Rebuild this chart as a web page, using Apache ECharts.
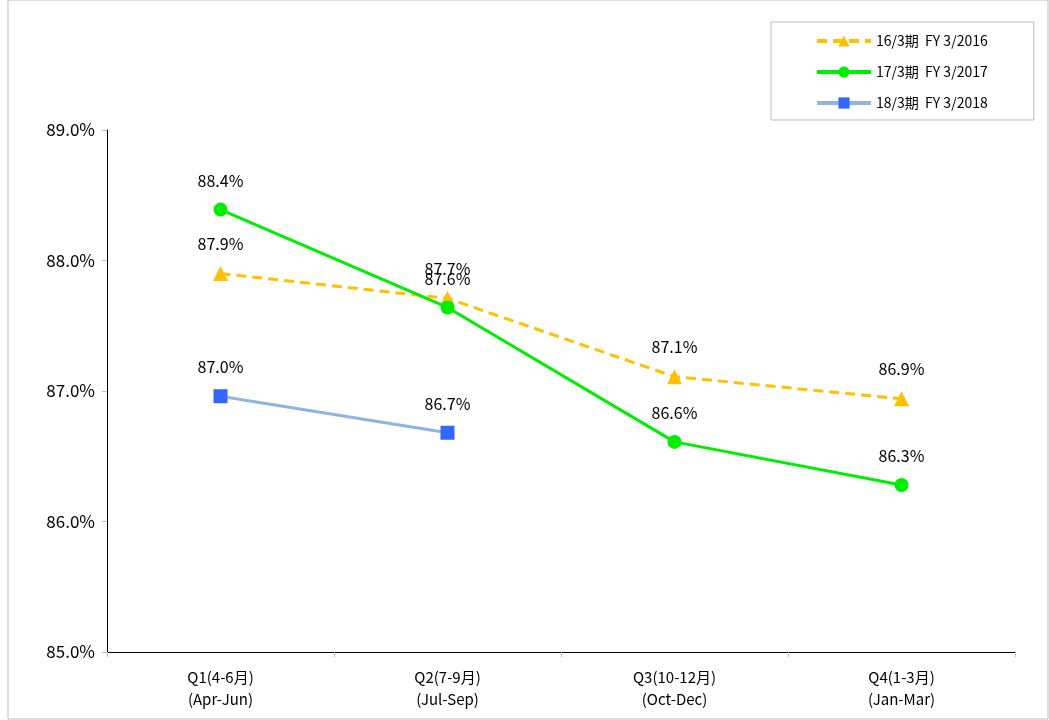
<!DOCTYPE html>
<html>
<head>
<meta charset="utf-8">
<script src="https://cdn.jsdelivr.net/npm/echarts@6/dist/echarts.min.js"></script>
<style>
html, body { margin: 0; padding: 0; background: #fff; }
#main { width: 1049px; height: 720px; }
</style>
</head>
<body>
<div id="main"></div>
<script>
// 四半期ラベル
var quarters = ['Q1(4-6月)\n(Apr-Jun)', 'Q2(7-9月)\n(Jul-Sep)', 'Q3(10-12月)\n(Oct-Dec)', 'Q4(1-3月)\n(Jan-Mar)'];
var names = ['16/3期  FY 3/2016', '17/3期  FY 3/2017', '18/3期  FY 3/2018'];
var fy2016 = [87.9, 87.71, 87.11, 86.94];
var fy2017 = [88.39, 87.64, 86.61, 86.28];
var fy2018 = [86.96, 86.68, null, null];

var font = '"Noto Sans CJK JP", "DejaVu Sans", sans-serif';

function pct(p) { return p.value.toFixed(1) + '%'; }

var labelStyle = {
    show: true,
    position: 'top',
    distance: 14,
    formatter: pct,
    fontSize: 16,
    color: '#000',
    fontFamily: font
};

var myChart = echarts.init(document.getElementById('main'));
myChart.setOption({
    animation: false,
    graphic: [{
        type: 'rect',
        shape: { x: 8, y: 0, width: 1040, height: 719 },
        style: { fill: 'none', stroke: '#bbb', lineWidth: 1 },
        z: -1
    }],
    grid: { left: 107, right: 34, top: 130, bottom: 68 },
    legend: {
        orient: 'vertical',
        left: 771,
        top: 22,
        padding: [12, 46, 10, 44],
        itemGap: 17,
        itemWidth: 54,
        itemHeight: 14,
        borderColor: '#bbb',
        borderWidth: 1,
        borderRadius: 0,
        lineStyle: { width: 4 },
        textStyle: { fontSize: 14, color: '#000', fontFamily: font },
        data: names
    },
    xAxis: {
        type: 'category',
        data: quarters,
        boundaryGap: true,
        axisLine: { lineStyle: { color: '#000', width: 1 } },
        axisTick: { show: true, length: 5, lineStyle: { color: '#bbb' } },
        axisLabel: { fontSize: 15, color: '#000', fontFamily: font, margin: 14, lineHeight: 22 }
    },
    yAxis: {
        type: 'value',
        min: 85,
        max: 89,
        interval: 1,
        axisLine: { show: true, lineStyle: { color: '#000', width: 1 } },
        axisTick: { show: true, length: 5, lineStyle: { color: '#bbb' } },
        splitLine: { show: false },
        axisLabel: {
            fontSize: 17, color: '#000', fontFamily: font, margin: 12,
            formatter: function (v) { return v.toFixed(1) + '%'; }
        }
    },
    series: [
        {
            name: names[0],
            type: 'line',
            data: fy2016,
            symbol: 'triangle',
            symbolSize: 15,
            itemStyle: { color: '#ffc000' },
            lineStyle: { color: '#ffc000', width: 3, type: [10, 6] },
            label: labelStyle,
            z: 3
        },
        {
            name: names[1],
            type: 'line',
            data: fy2017,
            symbol: 'circle',
            symbolSize: 14,
            itemStyle: { color: '#00ee00' },
            lineStyle: { color: '#00ee00', width: 3 },
            label: labelStyle,
            z: 4
        },
        {
            name: names[2],
            type: 'line',
            data: fy2018,
            symbol: 'rect',
            symbolSize: 14,
            itemStyle: { color: '#3366ff' },
            lineStyle: { color: '#8db4e2', width: 3 },
            label: labelStyle,
            z: 5
        }
    ]
});
</script>
</body>
</html>
